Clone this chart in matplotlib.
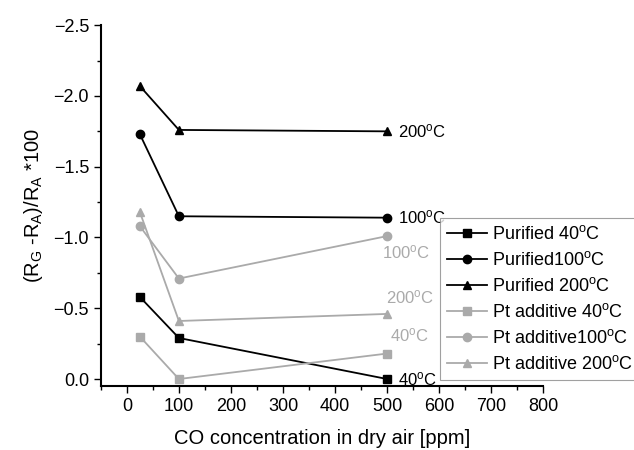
import matplotlib
matplotlib.use("Agg")
import matplotlib.pyplot as plt
from matplotlib.ticker import MultipleLocator

plt.rcParams['font.family'] = ['Liberation Sans', 'DejaVu Sans']
plt.rcParams['mathtext.fontset'] = 'custom'
plt.rcParams['mathtext.rm'] = 'Liberation Sans'
plt.rcParams['mathtext.it'] = 'Liberation Sans'

conc = [25, 100, 500]
purified_40 = [-0.58, -0.29, 0.0]
purified_100 = [-1.73, -1.15, -1.14]
purified_200 = [-2.07, -1.76, -1.75]
pt_40 = [-0.30, 0.0, -0.18]
pt_100 = [-1.08, -0.71, -1.01]
pt_200 = [-1.18, -0.41, -0.46]

deg = r"$^{\mathrm{o}}$C"
labels = ["Purified 40" + deg, "Purified100" + deg, "Purified 200" + deg,
          "Pt additive 40" + deg, "Pt additive100" + deg, "Pt additive 200" + deg]

black = "#000000"
gray = "#aaaaaa"

fig = plt.figure(figsize=(6.34, 4.5), dpi=100)
ax = fig.add_axes([0.159, 0.142, 0.698, 0.802])

series = [(purified_40, black, 's'), (purified_100, black, 'o'), (purified_200, black, '^'),
          (pt_40, gray, 's'), (pt_100, gray, 'o'), (pt_200, gray, '^')]
handles = []
for (vals, c, m), lab in zip(series, labels):
    h, = ax.plot(conc, vals, color=c, marker=m, markersize=6, linewidth=1.3, label=lab)
    handles.append(h)

ax.set_xlim(-50, 800)
ax.set_ylim(0.05, -2.5)
ax.xaxis.set_major_locator(MultipleLocator(100))
ax.xaxis.set_minor_locator(MultipleLocator(50))
ax.yaxis.set_major_locator(MultipleLocator(0.5))
ax.yaxis.set_minor_locator(MultipleLocator(0.25))
ax.spines['top'].set_visible(False)
ax.spines['right'].set_visible(False)
ax.spines['left'].set_linewidth(1.5)
ax.spines['bottom'].set_linewidth(1.5)
ax.tick_params(which='major', length=5, width=1, labelsize=13)
ax.tick_params(which='minor', length=3, width=1)
ax.set_xticks([0, 100, 200, 300, 400, 500, 600, 700, 800])
ax.set_yticks([0.0, -0.5, -1.0, -1.5, -2.0, -2.5])
ax.set_yticklabels(["0.0", "\u22120.5", "\u22121.0", "\u22121.5", "\u22122.0", "\u22122.5"])

ax.set_xlabel("CO concentration in dry air [ppm]", fontsize=14.5, labelpad=10)
ax.set_ylabel(r"(R$_{G}$ -R$_{A}$)/R$_{A}$ *100", fontsize=14.5, labelpad=6)

# end labels
ax.annotate("200" + deg, (500, purified_200[-1]), xytext=(8, 0), textcoords='offset points',
            va='center', ha='left', fontsize=12, color=black)
ax.annotate("100" + deg, (500, purified_100[-1]), xytext=(8, 0), textcoords='offset points',
            va='center', ha='left', fontsize=12, color=black)
ax.annotate("40" + deg, (500, purified_40[-1]), xytext=(8, 0), textcoords='offset points',
            va='center', ha='left', fontsize=12, color=black)
ax.annotate("100" + deg, (500, pt_100[-1]), xytext=(-4, -12), textcoords='offset points',
            va='center', ha='left', fontsize=12, color=gray)
ax.annotate("200" + deg, (500, pt_200[-1]), xytext=(-1, 12), textcoords='offset points',
            va='center', ha='left', fontsize=12, color=gray)
ax.annotate("40" + deg, (500, pt_40[-1]), xytext=(2, 13), textcoords='offset points',
            va='center', ha='left', fontsize=12, color=gray)

leg = fig.legend(handles=handles, labels=labels, loc='upper left',
                 bbox_to_anchor=(440 / 634, 1 - 218 / 450), fontsize=13,
                 frameon=True, fancybox=False, edgecolor='#888888',
                 handlelength=2.2, borderaxespad=0, labelspacing=0.44,
                 handletextpad=0.3, borderpad=0.4)
leg.get_frame().set_linewidth(0.8)

fig.savefig("out.png", dpi=100)
